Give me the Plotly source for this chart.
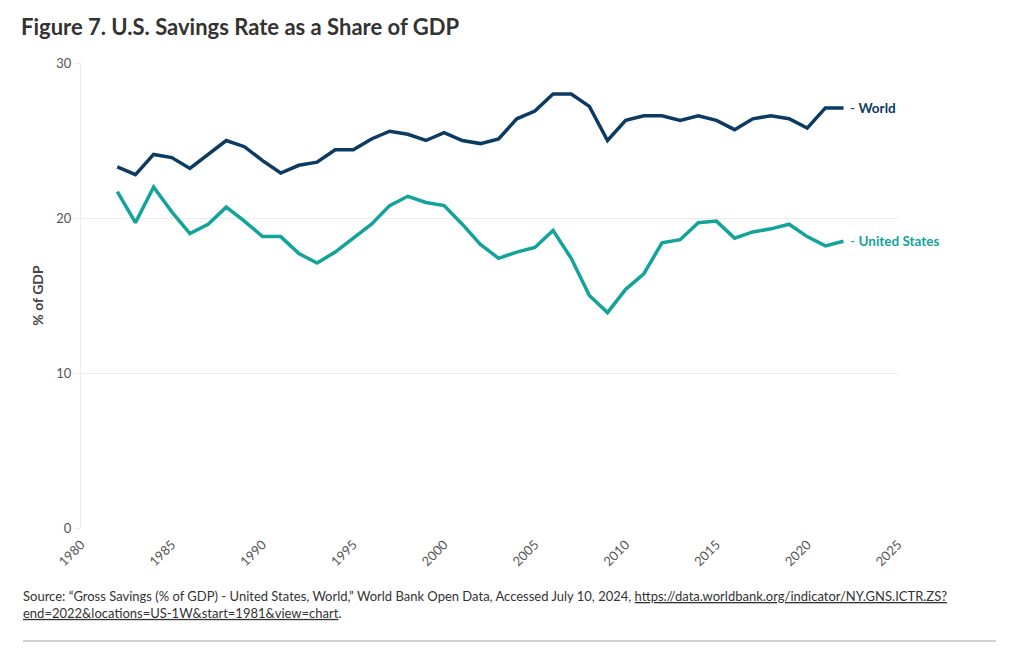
import plotly.graph_objects as go

years = list(range(1982, 2023))
world = [23.3, 22.8, 24.1, 23.9, 23.2, 24.1, 25.0, 24.6, 23.7, 22.9,
         23.4, 23.6, 24.4, 24.4, 25.1, 25.6, 25.4, 25.0, 25.5, 25.0,
         24.8, 25.1, 26.4, 26.9, 28.0, 28.0, 27.2, 25.0, 26.3, 26.6,
         26.6, 26.3, 26.6, 26.3, 25.7, 26.4, 26.6, 26.4, 25.8, 27.1, 27.1]
us = [21.7, 19.7, 22.0, 20.4, 19.0, 19.6, 20.7, 19.8, 18.8, 18.8,
      17.7, 17.1, 17.8, 18.7, 19.6, 20.8, 21.4, 21.0, 20.8, 19.6,
      18.3, 17.4, 17.8, 18.1, 19.2, 17.4, 15.0, 13.9, 15.4, 16.4,
      18.4, 18.6, 19.7, 19.8, 18.7, 19.1, 19.3, 19.6, 18.8, 18.2, 18.5]
series_names = ["World", "United States"]
colors = ["#0b3a63", "#12a39a"]

FONT = "Lato"
fig = go.Figure()
for name, vals, c in zip(series_names, [world, us], colors):
    fig.add_trace(go.Scatter(x=years, y=vals, mode="lines", name=name,
                             line=dict(color=c, width=3.5), showlegend=False,
                             hoverinfo="skip"))
    fig.add_annotation(x=years[-1], y=vals[-1], text="- <b>" + name + "</b>",
                       xanchor="left", yanchor="middle", showarrow=False,
                       xshift=4, font=dict(family=FONT, size=13.5, color=c))

fig.update_layout(
    width=1020, height=650,
    margin=dict(l=81, r=122, t=63, b=122),
    paper_bgcolor="white", plot_bgcolor="white",
    font=dict(family=FONT, color="#555"),
    title=dict(text="<b>Figure 7. U.S. Savings Rate as a Share of GDP</b>",
               x=21/1020, xanchor="left", y=1-27/650, yanchor="middle",
               font=dict(family=FONT, size=22, color="#333")),
)
fig.update_xaxes(range=[1980, 2025], dtick=5, tick0=1980, tickangle=-45,
                 showgrid=False, zeroline=False, showline=False,
                 ticks="outside", ticklen=3, tickcolor="rgba(0,0,0,0)",
                 tickfont=dict(size=13, color="#555"))
fig.update_yaxes(range=[0, 30], dtick=10, showgrid=True, gridcolor="#ebebeb",
                 gridwidth=1, zeroline=False, showline=True, linecolor="#ebebeb",
                 ticks="outside", ticklen=6, tickcolor="#ebebeb",
                 tickfont=dict(size=13, color="#555"),
                 title=dict(text="<b>% of GDP</b>", standoff=9,
                            font=dict(family=FONT, size=14, color="#444")))

fig.add_annotation(
    xref="paper", yref="paper", x=-60/817, y=-(604-528)/465, xanchor="left", yanchor="middle",
    align="left", showarrow=False,
    text=("Source: \u201cGross Savings (% of GDP) - United States, World,\u201d World Bank Open Data, Accessed July 10, 2024, "
          "<span style=\"text-decoration:underline\">https://data.worldbank.org/indicator/NY.GNS.ICTR.ZS?</span><br>"
          "<span style=\"text-decoration:underline\">end=2022&locations=US-1W&start=1981&view=chart</span>."),
    font=dict(family=FONT, size=13, color="#333"))
fig.add_shape(type="line", xref="paper", yref="paper",
              x0=-58/817, x1=(996-81)/817, y0=-(641-528)/465, y1=-(641-528)/465,
              line=dict(color="#d0d0d0", width=2))

fig.write_html("out.html")
